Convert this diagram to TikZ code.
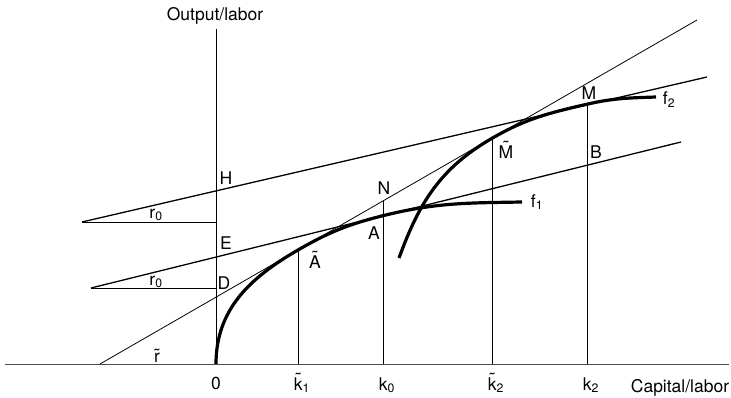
\documentclass[tikz,border=0pt]{standalone}
\usepackage{fontspec}
\setmainfont{TeX Gyre Heros}
\usetikzlibrary{positioning,calc}
% tilde centred over a letter
\newcommand\tlab[1]{\leavevmode\setbox0\hbox{#1}%
  \rlap{\hbox to\wd0{\hss\raisebox{\dimexpr\ht0-1ex+0.5pt\relax}{\char"02DC}\hss}}\box0}

\begin{document}
\begin{tikzpicture}[x=1pt, y=1pt,
  lbl/.style={font=\fontsize{17.5}{19}\selectfont, inner sep=0pt, anchor=base},
  axisline/.style={line width=0.9pt, black!70},
  guide/.style={line width=0.7pt},
  rate/.style={line width=1.3pt},
  rtilde/.style={line width=0.8pt},
  prod/.style={line width=3.2pt}
]
  \useasboundingbox (0,0) rectangle (731,397);

  % axes
  \coordinate (O) at (216,33);
  \coordinate (ytop) at (216,368);
  \coordinate (xleft) at (5,33);
  \coordinate (xright) at (729,33);
  \draw[axisline] (xleft) -- (xright);
  \draw[guide] (O) -- (ytop);

  % rate lines
  \coordinate (topS) at (82,175);   \coordinate (topE) at (707,320);
  \coordinate (midS) at (91,109);   \coordinate (midE) at (681,255);
  \coordinate (rtS) at (100,33);    \coordinate (rtE) at (697,377);
  \coordinate (topH) at (216,175);  \coordinate (midH) at (216,109);
  \draw[rate] (topS) -- (topE);
  \draw[rate] (midS) -- (midE);
  \draw[rtilde] (rtS) -- (rtE);
  \draw[guide] (topS) -- (topH);
  \draw[guide] (midS) -- (midH);

  % points on the curves
  \coordinate (At) at (298,147);
  \coordinate (A) at (383,181.3);
  \coordinate (N) at (383,196);
  \coordinate (Mt) at (492,258.7);
  \coordinate (M) at (587,292.8);
  \coordinate (f1end) at (522,195);
  \coordinate (f2start) at (399,139);
  \coordinate (f2end) at (656,300);

  % verticals
  \coordinate (k1t) at (298,33);
  \coordinate (k0) at (383,33);
  \coordinate (k2t) at (492,33);
  \coordinate (k2) at (587,33);
  \draw[guide] (k1t) -- (At);
  \draw[guide] (k0) -- (N);
  \draw[guide] (k2t) -- (Mt);
  \draw[guide] (k2) -- (M);

  % production functions
  \draw[prod] (O) to[out=90, in=210] (At) to[out=30, in=194] (A)
    to[out=14, in=181] (f1end);
  \draw[prod] (f2start) to[out=70, in=210] (Mt) to[out=30, in=193] (M)
    to[out=13, in=182] (f2end);

  % labels
  \node[lbl] (ylab) at (215,376) {Output/labor};
  \node[lbl] (xlab) at (680,5) {Capital/labor};
  \node[lbl] (zero) at (216,8) {0};
  \node[lbl] (k1tl) at (302,7) {\tlab{k}\textsubscript{1}};
  \node[lbl] (k0l) at (387,7) {k\textsubscript{0}};
  \node[lbl] (k2tl) at (496,7) {\tlab{k}\textsubscript{2}};
  \node[lbl] (k2l) at (591,7) {k\textsubscript{2}};
  \node[lbl] (Hl) at (226,213) {H};
  \node[lbl] (El) at (226,148) {E};
  \node[lbl] (Dl) at (224,108) {D};
  \node[lbl] (r0a) at (156,179) {r\textsubscript{0}};
  \node[lbl] (r0b) at (156,112) {r\textsubscript{0}};
  \node[lbl] (rtl) at (157,35) {\tlab{r}};
  \node[lbl] (Nl) at (384,203) {N};
  \node[lbl] (Al) at (374,158) {A};
  \node[lbl] (Atl) at (315,129) {\tlab{A}};
  \node[lbl] (Mtl) at (506,239) {\tlab{M}};
  \node[lbl] (Ml) at (589,297) {M};
  \node[lbl] (Bl) at (596,238) {B};
  \node[lbl] (f1l) at (537,190) {f\textsubscript{1}};
  \node[lbl] (f2l) at (669,292) {f\textsubscript{2}};
\end{tikzpicture}
\end{document}
